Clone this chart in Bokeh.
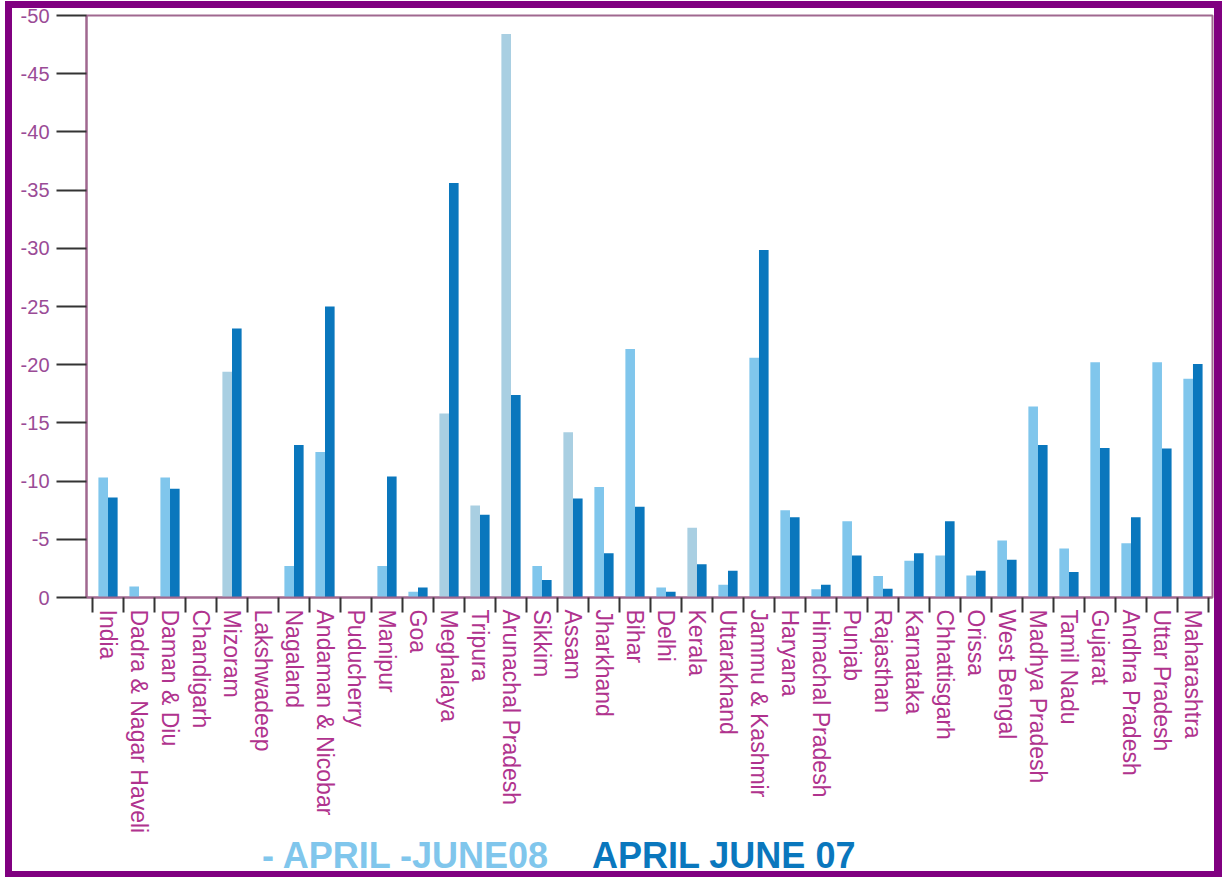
import math
from bokeh.plotting import figure
from bokeh.models import ColumnDataSource, Range1d, FixedTicker, Div
from bokeh.layouts import column
from bokeh.transform import dodge
from bokeh.embed import file_html
from bokeh.resources import INLINE

states = [
    "India", "Dadra & Nagar Haveli", "Daman & Diu", "Chandigarh", "Mizoram",
    "Lakshwadeep", "Nagaland", "Andaman & Nicobar", "Puducherry", "Manipur",
    "Goa", "Meghalaya", "Tripura", "Arunachal Pradesh", "Sikkim", "Assam",
    "Jharkhand", "Bihar", "Delhi", "Kerala", "Uttarakhand", "Jammu & Kashmir",
    "Haryana", "Himachal Pradesh", "Punjab", "Rajasthan", "Karnataka",
    "Chhattisgarh", "Orissa", "West Bengal", "Madhya Pradesh", "Tamil Nadu",
    "Gujarat", "Andhra Pradesh", "Uttar Pradesh", "Maharashtra",
]
apr_jun_08 = [
    -10.3, -0.95, -10.3, 0.0, -19.4, 0.0, -2.7, -12.5, 0.0, -2.7,
    -0.5, -15.8, -7.9, -48.4, -2.7, -14.2, -9.5, -21.35, -0.85, -6.0,
    -1.1, -20.6, -7.5, -0.7, -6.55, -1.85, -3.15, -3.6, -1.9, -4.9,
    -16.4, -4.2, -20.2, -4.65, -20.2, -18.8,
]
apr_jun_07 = [
    -8.6, 0.0, -9.35, 0.0, -23.1, 0.0, -13.1, -25.0, 0.0, -10.4,
    -0.85, -35.6, -7.1, -17.4, -1.5, -8.5, -3.8, -7.8, -0.5, -2.85,
    -2.3, -29.85, -6.9, -1.1, -3.6, -0.75, -3.8, -6.55, -2.3, -3.25,
    -13.1, -2.2, -12.85, -6.9, -12.8, -20.05,
]
y_ticks = [0, -5, -10, -15, -20, -25, -30, -35, -40, -45, -50]
y_tick_labels = ["0", "-5", "-10", "-15", "-20", "-25", "-30", "-35", "-40", "-45", "-50"]
series_names = ["- APRIL -JUNE08", "APRIL JUNE 07"]

# styles
LIGHT = "#80c6ec"
GREYISH = "#a9cfe2"
DARK = "#0a77bd"
greyish_states = {"Mizoram", "Meghalaya", "Tripura", "Arunachal Pradesh", "Assam", "Kerala"}
light_colors = [GREYISH if s in greyish_states else LIGHT for s in states]
MAUVE = "#a0688f"

idx = list(range(len(states)))
src = ColumnDataSource(dict(idx=idx, state=states, v08=apr_jun_08, v07=apr_jun_07, c08=light_colors))

p = figure(width=1202, height=832, output_backend="svg", toolbar_location=None,
           x_range=Range1d(-0.694, 35.63), y_range=Range1d(0, -50),
           min_border_left=74, min_border_right=2, min_border_top=7, min_border_bottom=243)

p.vbar(x=dodge("idx", -0.155), top="v08", bottom=0, width=0.31, source=src,
       fill_color="c08", line_color=None)
p.vbar(x=dodge("idx", 0.155), top="v07", bottom=0, width=0.31, source=src,
       fill_color=DARK, line_color=None)

p.xgrid.grid_line_color = None
p.ygrid.grid_line_color = None
p.outline_line_color = MAUVE
p.outline_line_width = 2
p.background_fill_color = "white"
p.border_fill_color = "white"

# y axis
ya = p.yaxis[0]
ya.ticker = FixedTicker(ticks=y_ticks, minor_ticks=[])
ya.major_label_overrides = {t: s for t, s in zip(y_ticks, y_tick_labels)}
ya.axis_line_color = MAUVE
ya.axis_line_width = 2
ya.major_tick_out = 30
ya.major_tick_in = 0
ya.major_tick_line_color = "#333333"
ya.major_tick_line_width = 2
ya.minor_tick_line_color = None
ya.major_label_standoff = 7
ya.major_label_text_font = "Liberation Sans"
ya.major_label_text_font_size = "20px"
ya.major_label_text_color = "#9a4b96"

# x axis: labels at centres, ticks at category boundaries
xa = p.xaxis[0]
xa.ticker = FixedTicker(ticks=idx, minor_ticks=[i - 0.5 for i in range(len(states) + 1)])
xa.major_label_overrides = {i: s for i, s in zip(idx, states)}
xa.major_label_orientation = -math.pi / 2
xa.axis_line_color = MAUVE
xa.axis_line_width = 2
xa.major_tick_out = 0
xa.major_tick_in = 0
xa.major_tick_line_color = None
xa.minor_tick_out = 15
xa.minor_tick_in = 0
xa.minor_tick_line_color = "#333333"
xa.minor_tick_line_width = 2
xa.major_label_standoff = -3
xa.major_label_text_font = "Liberation Sans"
xa.major_label_text_font_size = "23px"
xa.major_label_text_color = "#b0338e"

# legend row (coloured texts, no swatches)
span_style = ("position:absolute;top:0;white-space:nowrap;font-family:'Liberation Sans';"
              "font-weight:bold;font-size:36px;line-height:31px;")
legend_html = (
    '<div style="position:relative;width:1202px;height:31px;">'
    f'<span style="{span_style}left:250px;color:{LIGHT};">{series_names[0]}</span>'
    f'<span style="{span_style}left:580px;color:{DARK};">{series_names[1]}</span>'
    '</div>'
)
legend_div = Div(text=legend_html, width=1202, height=31, margin=0)

layout = column(p, legend_div, spacing=0)
layout.styles = {"border-style": "solid", "border-color": "#800080",
                 "border-width": "7px 8px 6px 7px", "box-sizing": "content-box",
                 "margin-left": "5px", "margin-top": "1px", "background-color": "white"}

open("out.html", "w").write(file_html(layout, INLINE))
